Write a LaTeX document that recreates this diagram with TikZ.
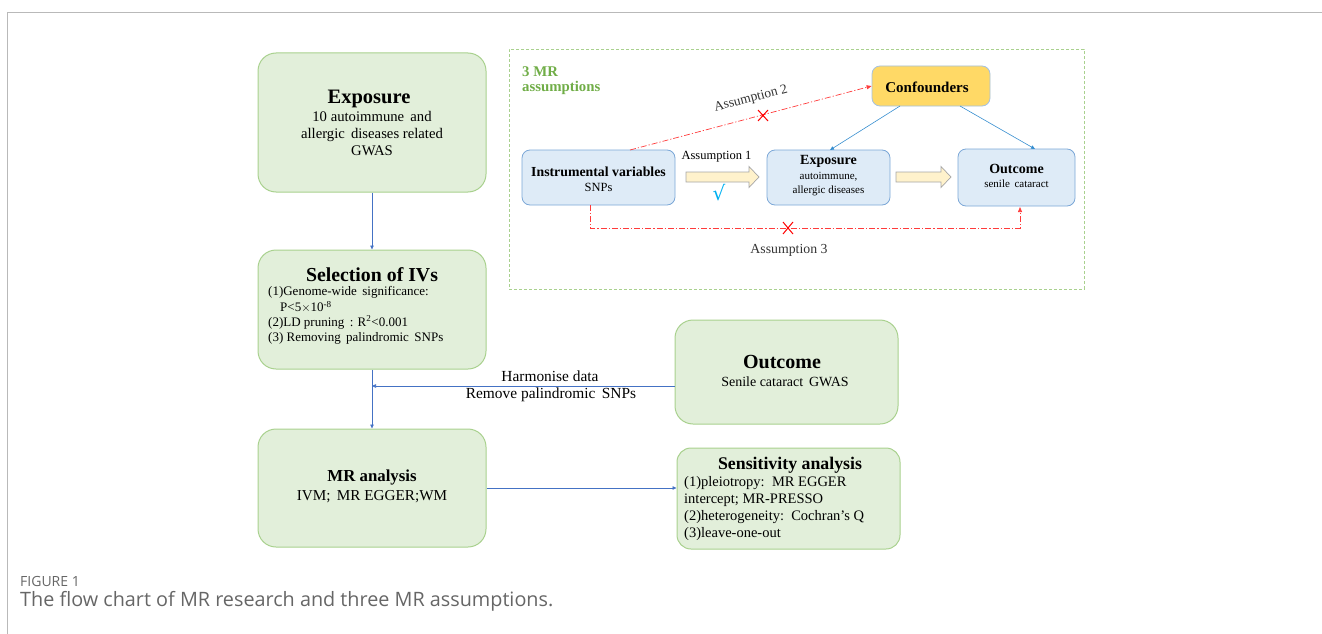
\documentclass[tikz,border=0pt]{standalone}
\usepackage{fontspec}
\setmainfont{Liberation Serif}
\newfontfamily\capfont{Open Sans}
\newfontfamily\symfont{DejaVu Sans}
\usetikzlibrary{arrows.meta}
\definecolor{gfill}{HTML}{E2EFDA}
\definecolor{gline}{HTML}{A9D18E}
\definecolor{bfill}{HTML}{DEEBF7}
\definecolor{bline}{HTML}{7BA7D7}
\definecolor{yfill}{HTML}{FFD966}
\definecolor{conn}{HTML}{4472C4}
\definecolor{redl}{HTML}{FF3B3B}
\definecolor{afill}{HTML}{FFF2CC}
\definecolor{aline}{HTML}{A6A6A6}
\definecolor{capgray}{HTML}{666666}
\definecolor{titlegreen}{HTML}{70AD47}
\definecolor{chkcol}{HTML}{00B0F0}
\begin{document}
\begin{tikzpicture}[x=1pt,y=-1pt,
  gbox/.style={draw=gline,fill=gfill,line width=1pt,rounded corners=18pt,inner sep=0},
  bbox/.style={draw=bline,fill=bfill,line width=0.8pt,rounded corners=8pt,inner sep=0},
  txt/.style={inner sep=0,anchor=center},
  ltxt/.style={inner sep=0,anchor=west},
  flow/.style={draw=conn,line width=0.6pt,-{Triangle[length=4pt,width=3.5pt]}},
  redarr/.style={draw=redl,line width=0.7pt,dash pattern=on 6pt off 2pt on 1.2pt off 2pt,-{Triangle[length=5pt,width=4pt]}},
  blockarr/.style={draw=aline,fill=afill,line width=0.7pt},
  xmark/.style={draw=red,line width=1pt}]
\useasboundingbox (0,0) rectangle (1322,634);
% frame
\draw[gray!55,line width=1pt] (7,634) -- (7,13) -- (1322,13);
% left flow boxes
\node[gbox,minimum width=228,minimum height=139] (expo) at (372,122.5) {};
\node[txt,font=\fontsize{20.5}{20.5}\selectfont\bfseries] (expoT) at (369,99) {Exposure};
\node[txt,font=\fontsize{14.7}{17}\selectfont,align=center] (expoB) at (372,134) {10 autoimmune\, and\\allergic\, diseases related\\GWAS};

\node[gbox,minimum width=228,minimum height=119] (sel) at (372,309.5) {};
\node[txt,font=\fontsize{19.8}{19.8}\selectfont\bfseries] (selT) at (372,275) {Selection of IVs};
\node[ltxt,font=\fontsize{13}{13}\selectfont] (sel1) at (268,292) {(1)Genome-wide\, significance:};
\node[ltxt,font=\fontsize{13}{13}\selectfont] (sel2) at (280,307) {P<5${\times}$10\textsuperscript{-8}};
\node[ltxt,font=\fontsize{13}{13}\selectfont] (sel3) at (268,322.5) {(2)LD pruning\, : R\textsuperscript{2}<0.001};
\node[ltxt,font=\fontsize{13}{13}\selectfont] (sel4) at (268,338) {(3) Removing\, palindromic\, SNPs};

\node[gbox,minimum width=228,minimum height=118] (mr) at (372,488) {};
\node[txt,font=\fontsize{16.8}{16.8}\selectfont\bfseries] (mrT) at (372,477) {MR analysis};
\node[txt,font=\fontsize{15.2}{15.2}\selectfont] (mrB) at (372,497) {IVM;\, MR EGGER;WM};

\node[gbox,minimum width=223,minimum height=104] (out) at (786.5,372) {};
\node[txt,font=\fontsize{20}{20}\selectfont\bfseries] (outT) at (782,362) {Outcome};
\node[txt,font=\fontsize{14}{14}\selectfont] (outB) at (785,382) {Senile cataract\, GWAS};

\node[gbox,minimum width=223,minimum height=101,rounded corners=14pt] (sens) at (788.5,498.5) {};
\node[txt,font=\fontsize{17.8}{17.8}\selectfont\bfseries] (sensT) at (790,465) {Sensitivity analysis};
\node[ltxt,font=\fontsize{14.5}{14.5}\selectfont] (sens1) at (684,483) {(1)pleiotropy:\, MR EGGER};
\node[ltxt,font=\fontsize{14.5}{14.5}\selectfont] (sens2) at (684,500) {intercept; MR-PRESSO};
\node[ltxt,font=\fontsize{14.5}{14.5}\selectfont] (sens3) at (684,517) {(2)heterogeneity:\, Cochran's Q};
\node[ltxt,font=\fontsize{14.5}{14.5}\selectfont] (sens4) at (684,534) {(3)leave-one-out};

% flow connectors
\draw[flow] (expo.south) -- (sel.north);
\draw[flow] (sel.south) -- (mr.north);
\coordinate (join) at (372,386);
\draw[flow] (out.west |- join) -- (join);
\node[txt,font=\fontsize{15.4}{15.4}\selectfont] (harm) at (550,376) {Harmonise data};
\node[txt,font=\fontsize{15.4}{15.4}\selectfont] (remv) at (551,395) {Remove palindromic\, SNPs};
\draw[flow] (mr.east |- 0,488) -- (sens.west |- 0,488);

% assumptions panel
\node[draw=gline,line width=0.8pt,dash pattern=on 3pt off 2pt,minimum width=575,minimum height=240,inner sep=0] (panel) at (796.5,169) {};
\node[ltxt,font=\fontsize{14.8}{14.8}\selectfont\bfseries,text=titlegreen] (pt1) at (522,72) {3 MR};
\node[ltxt,font=\fontsize{14.8}{14.8}\selectfont\bfseries,text=titlegreen] (pt2) at (522,88) {assumptions};

\node[bbox,minimum width=153,minimum height=55] (iv) at (598.5,177.5) {};
\node[txt,font=\fontsize{13.8}{13.8}\selectfont\bfseries] (ivT) at (598.5,172) {Instrumental variables};
\node[txt,font=\fontsize{12.5}{12.5}\selectfont] (ivB) at (598.5,187) {SNPs};

\node[bbox,minimum width=123,minimum height=55] (ex2) at (828.5,177.5) {};
\node[txt,font=\fontsize{14}{14}\selectfont\bfseries] (ex2T) at (828.5,161) {Exposure};
\node[txt,font=\fontsize{11}{14.5}\selectfont,align=center] (ex2B) at (828.5,184) {autoimmune,\\allergic diseases};

\node[bbox,minimum width=117,minimum height=57] (out2) at (1016.5,177.5) {};
\node[txt,font=\fontsize{14}{14}\selectfont\bfseries] (out2T) at (1016.5,169) {Outcome};
\node[txt,font=\fontsize{11}{11}\selectfont] (out2B) at (1016.5,184) {senile\, cataract};

\node[bbox,fill=yfill,draw=bline!70,minimum width=118,minimum height=40] (conf) at (931,86) {};
\node[txt,font=\fontsize{15}{15}\selectfont\bfseries] (confT) at (927,87) {Confounders};

% block arrows
\draw[blockarr] (686,172) -- (749,172) -- (749,166.5) -- (759,177) -- (749,187.5) -- (749,182) -- (686,182) -- cycle;
\draw[blockarr] (896,172) -- (941,172) -- (941,166.5) -- (951,177) -- (941,187.5) -- (941,182) -- (896,182) -- cycle;
\node[txt,font=\fontsize{12.5}{12.5}\selectfont] (a1) at (716.5,157) {Assumption 1};
\node[txt,font=\symfont\fontsize{20}{20}\selectfont,text=chkcol] (chk) at (719,193) {√};

% confounder arrows
\draw[flow,draw=conn!80!cyan] (900,106) -- (830,150);
\draw[flow,draw=conn!80!cyan] (960,106) -- (1035,149);

% assumption 2
\draw[redarr] (630,150) -- (conf.west);
\node[txt,font=\fontsize{13.5}{13.5}\selectfont,rotate=14.5,text=black!80] (a2) at (751,99) {Assumption 2};
\draw[xmark] (758,110) -- (768,121) (768,110) -- (758,121);

% assumption 3
\coordinate (c3a) at (590,228);
\coordinate (c3b) at (1020,228);
\draw[redarr] (590,205) -- (c3a) -- (c3b) -- (1020,207);
\draw[xmark] (783,222) -- (793,234) (793,222) -- (783,234);
\node[txt,font=\fontsize{13.8}{13.8}\selectfont,text=black!80] (a3) at (789,250) {Assumption 3};

% caption
\node[ltxt,font=\capfont\fontsize{14}{14}\selectfont,text=capgray] (fig) at (20,581) {FIGURE 1};
\node[ltxt,font=\capfont\fontsize{19.8}{19.8}\selectfont,text=capgray] (capt) at (20,601) {The flow chart of MR research and three MR assumptions.};
\end{tikzpicture}
\end{document}
